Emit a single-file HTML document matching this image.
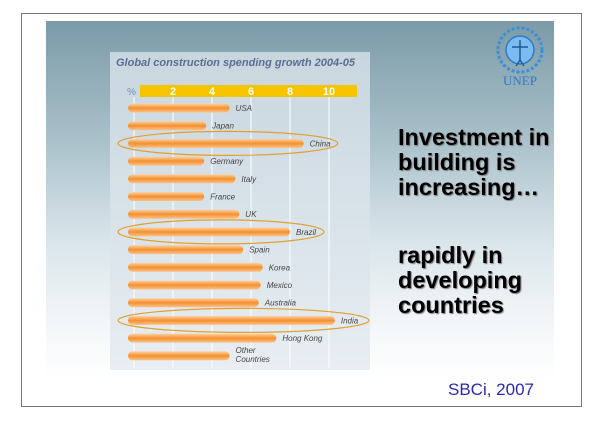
<!DOCTYPE html>
<html><head><meta charset="utf-8"><style>
body{margin:0;width:600px;height:424px;background:#fff;overflow:hidden;font-family:"Liberation Sans",sans-serif;position:relative}
#frame{position:absolute;left:21px;top:13px;width:561px;height:394px;border:1px solid #777;box-sizing:border-box}
#grad{position:absolute;left:46px;top:21px;width:508px;height:360px;background:linear-gradient(#7b9ba8 0%,#a5bdc6 30%,#d8e4ea 60%,#f4f7f9 85%,#fff 100%)}
.h{position:absolute;left:398px;font-weight:bold;font-size:23.5px;color:#000;text-shadow:1px 1px 1px #777;line-height:25px}
</style></head><body>
<div id="frame"></div>
<div id="grad"></div>
<svg width="600" height="424" style="position:absolute;left:0;top:0" id="chart">
<defs>
<linearGradient id="panel" x1="0" y1="0" x2="0" y2="1"><stop offset="0" stop-color="#c8d6df"/><stop offset="1" stop-color="#e8eef3"/></linearGradient>
<linearGradient id="bar" x1="0" y1="0" x2="0" y2="1"><stop offset="0" stop-color="#fbd3a8"/><stop offset="0.5" stop-color="#f5902e"/><stop offset="1" stop-color="#fbc38a"/></linearGradient>
</defs>
<rect x="110" y="52" width="260" height="318" fill="url(#panel)"/>
<text x="116" y="66" font-size="11" font-style="italic" font-weight="bold" fill="#5a6f90">Global construction spending growth 2004-05</text>
<rect x="140" y="85" width="217" height="12" fill="#f7c500"/>
<text x="127" y="95" font-size="10" fill="#7a8eb0">%</text>
<g id="grid"></g><g id="bars"></g>
<g>
<circle cx="520" cy="50" r="22" fill="none" stroke="#3d8ed8" stroke-width="3" stroke-dasharray="3 2"/>
<circle cx="520" cy="50" r="14" fill="#7cbcf0" stroke="#2d7ac8" stroke-width="1.5"/>
<path d="M520 40v20M512 47h16M520 60l-4 6M520 60l4 6" stroke="#1d5a9a" stroke-width="1.5" fill="none"/>
<text x="520" y="85" font-size="13" font-family="Liberation Serif,serif" text-anchor="middle" fill="#2d7ac8">UNEP</text>
</g>
</svg>
<div class="h" style="top:125px">Investment in<br>building is<br>increasing…</div>
<div class="h" style="top:243px">rapidly in<br>developing<br>countries</div>
<div style="position:absolute;left:448px;top:380px;font-size:17px;color:#2a2ab0">SBCi, 2007</div>
<script>
const categories=["USA","Japan","China","Germany","Italy","France","UK","Brazil","Spain","Korea","Mexico","Australia","India","Hong Kong","Other Countries"];
const values=[4.9,3.7,8.7,3.6,5.2,3.6,5.4,8.0,5.6,6.6,6.5,6.4,10.3,7.3,4.9];
const highlighted=["China","Brazil","India"];
const ticks=[2,4,6,8,10];
const NS="http://www.w3.org/2000/svg";
const x=v=>134+v*19.5;
const y=i=>108+i*17.7;
const g=document.getElementById('grid'),b=document.getElementById('bars');
function mk(t,a,p){const e=document.createElementNS(NS,t);for(const k in a)e.setAttribute(k,a[k]);p.appendChild(e);return e;}
const zl=mk('line',{x1:x(0),x2:x(0),y1:97,y2:368,stroke:'#fff','stroke-width':1},g);


ticks.forEach(t=>{
 const l=mk('line',{x1:x(t),x2:x(t),y1:97,y2:368,stroke:'#fff','stroke-width':1},g);
 
 
 const tx=mk('text',{x:x(t),y:95,'font-size':11,'text-anchor':'middle',fill:'#fff','font-weight':'bold'},g);
 tx.textContent=t;
 
 
});
categories.forEach((c,i)=>{
 const r=mk('rect',{x:128,y:y(i)-4.5,width:x(values[i])-128,height:9,rx:4.5,fill:'url(#bar)'},b);
 
 
 const lx=x(values[i])+6;
 if(c==="Other Countries"){
  const t=mk('text',{x:lx,y:y(i)-3,'font-size':8,'font-style':'italic',fill:'#444'},b);
  t.innerHTML='<tspan x="'+lx+'">Other</tspan><tspan x="'+lx+'" dy="9">Countries</tspan>';
  
  
 } else {
  const t=mk('text',{x:lx,y:y(i)+3,'font-size':8,'font-style':'italic',fill:'#444'},b);
  t.textContent=c;
  
  
 }
 if(highlighted.includes(c)){
  const e=mk('ellipse',{cx:(118+x(values[i])+34)/2,cy:y(i),rx:(x(values[i])+34-118)/2,ry:12,fill:'none',stroke:'#e0a030','stroke-width':1.2},b);
  
  
 }
});
</script>
</body></html>
